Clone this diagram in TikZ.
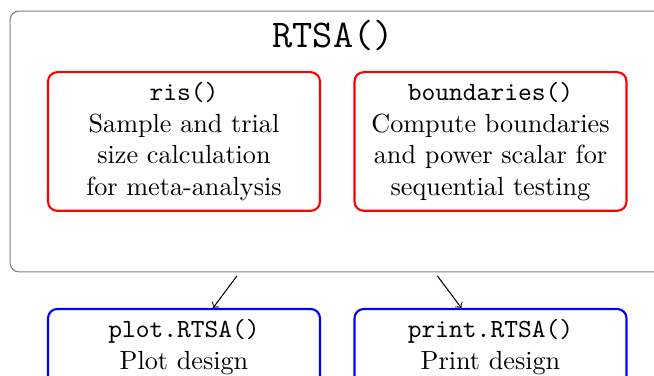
\documentclass[tikz,border=0pt]{standalone}
\begin{document}
\begin{tikzpicture}[x=0.3817pt,y=-0.3817pt,
  outerbox/.style={draw=gray,line width=0.4pt,rounded corners=3.5pt,minimum width=249.6pt,minimum height=99.6pt,inner sep=0pt,outer sep=1.5pt},
  redbox/.style={draw=red,line width=0.8pt,rounded corners=3.5pt,minimum width=103.8pt,minimum height=52.9pt,align=center,inner sep=2pt},
  bluebox/.style={draw=blue,line width=0.8pt,rounded corners=3.5pt,minimum width=103.8pt,minimum height=29pt,align=center,inner sep=2pt},
  titletext/.style={font=\fontsize{15}{18}\selectfont\ttfamily,inner sep=0pt},
  conn/.style={->,line width=0.4pt}]
\useasboundingbox (0,0) rectangle (654,376);
\clip (0,0) rectangle (654,376);
\node[outerbox] (rtsa) at (337,141.5) {};
\node[titletext] (title) at (333,36) {RTSA()};
\node[redbox] (ris) at (184,141.5) {\texttt{ris()}\\Sample and trial\\size calculation\\for meta-analysis};
\node[redbox] (bnd) at (490.5,141.5) {\texttt{boundaries()}\\Compute boundaries\\and power scalar for\\sequential testing};
\node[bluebox] (plot) at (184,347) {\texttt{plot.RTSA()}\\Plot design};
\node[bluebox] (print) at (490.5,347) {\texttt{print.RTSA()}\\Print design};
\draw[conn] (rtsa) -- (plot);
\draw[conn] (rtsa) -- (print);
\end{tikzpicture}
\end{document}
